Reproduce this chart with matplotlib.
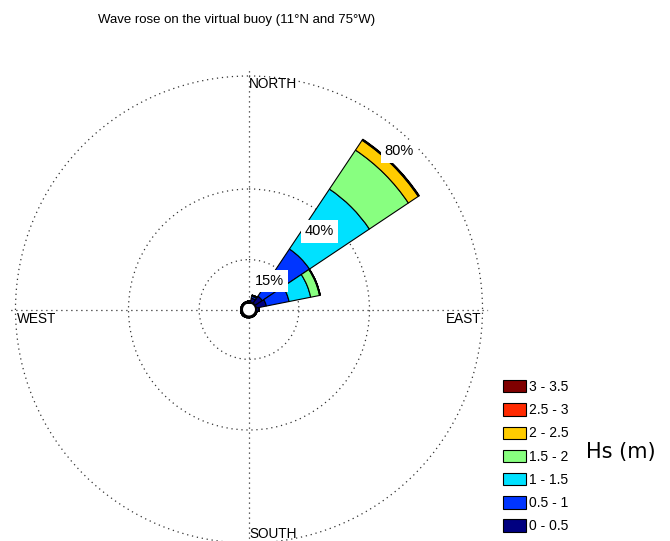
import numpy as np
import matplotlib.pyplot as plt
from matplotlib.patches import Patch

plt.rcParams['font.family'] = ['Liberation Sans', 'DejaVu Sans']

# direction bins (compass degrees, 16 sectors of 22.5)
directions = [0, 22.5, 45, 67.5, 90, 112.5, 135, 157.5,
              180, 202.5, 225, 247.5, 270, 292.5, 315, 337.5]

# frequency (%) of each Hs class per direction
hs_0_05 = [0.3, 1.4, 3.0, 3.6, 0.8, 0.2, 0.2, 0.2, 0.2, 0.3, 0.4, 0.4, 0.3, 0.2, 0.2, 0.2]
hs_05_1 = [0.0, 0.7, 20.1, 8.2, 0.1, 0.0, 0.0, 0.0, 0.0, 0.0, 0.0, 0.0, 0.0, 0.0, 0.0, 0.0]
hs_1_15 = [0.0, 0.4, 25.5, 7.8, 0.0, 0.0, 0.0, 0.0, 0.0, 0.0, 0.0, 0.0, 0.0, 0.0, 0.0, 0.0]
hs_15_2 = [0.0, 0.0, 16.6, 3.2, 0.0, 0.0, 0.0, 0.0, 0.0, 0.0, 0.0, 0.0, 0.0, 0.0, 0.0, 0.0]
hs_2_25 = [0.0, 0.0, 4.2, 0.2, 0.0, 0.0, 0.0, 0.0, 0.0, 0.0, 0.0, 0.0, 0.0, 0.0, 0.0, 0.0]
hs_25_3 = [0.0, 0.0, 0.3, 0.05, 0.0, 0.0, 0.0, 0.0, 0.0, 0.0, 0.0, 0.0, 0.0, 0.0, 0.0, 0.0]
hs_3_35 = [0.0, 0.0, 0.15, 0.0, 0.0, 0.0, 0.0, 0.0, 0.0, 0.0, 0.0, 0.0, 0.0, 0.0, 0.0, 0.0]

classes = ['0 - 0.5', '0.5 - 1', '1 - 1.5', '1.5 - 2', '2 - 2.5', '2.5 - 3', '3 - 3.5']
colors = ['#000080', '#0035FF', '#00E1FF', '#88FF80', '#FFCC00', '#FF2A00', '#800000']
circles = [15, 40, 80]

series = [hs_0_05, hs_05_1, hs_1_15, hs_15_2, hs_2_25, hs_25_3, hs_3_35]

fig = plt.figure(figsize=(6.7, 5.41), dpi=100)

# polar axes: center (249, 309.5) px, 80% circle at 233.5 px
k = 233.5 / 82.65
r0 = 7.5 / k
rmax = 82
R = (rmax + r0) * k
ax = fig.add_axes([(249 - R) / 670, (541 - 309.5 - R) / 541, 2 * R / 670, 2 * R / 541],
                  projection='polar')
ax.set_theta_zero_location('N')
ax.set_theta_direction(-1)
ax.set_rorigin(-r0)
ax.set_rlim(0, rmax)

theta = np.deg2rad(directions)
bottom = np.zeros(len(directions))
for vals, c in zip(series, colors):
    vals = np.array(vals)
    ax.bar(theta, vals, width=np.deg2rad(22.5), bottom=bottom, color=c,
           edgecolor='k', linewidth=0.8, zorder=3)
    bottom += vals

ax.set_rgrids(circles, labels=[])
ax.set_thetagrids([0, 90, 180, 270], labels=[])
ax.grid(True, color='#333333', linestyle=(0, (1, 3)), linewidth=0.9)
ax.set_axisbelow(True)
ax.spines['polar'].set_visible(False)
if 'inner' in ax.spines:
    ax.spines['inner'].set_linewidth(2.2)
ax.patch.set_alpha(0)

for c in circles:
    ax.text(np.deg2rad(45), c, f'{c}%', ha='right', va='top', fontsize=10.5,
            zorder=5, bbox=dict(facecolor='white', edgecolor='none', pad=3))

ax.annotate('NORTH', xy=(0, 80), xytext=(0, -1), textcoords='offset points',
            ha='left', va='top', fontsize=9.8, annotation_clip=False)
ax.annotate('EAST', xy=(np.pi / 2, 80), xytext=(-1, -2), textcoords='offset points',
            ha='right', va='top', fontsize=9.8, annotation_clip=False)
ax.annotate('WEST', xy=(3 * np.pi / 2, 80), xytext=(1, -2), textcoords='offset points',
            ha='left', va='top', fontsize=9.8, annotation_clip=False)
ax.text(np.pi, 78.3, 'SOUTH', ha='left', va='baseline', fontsize=9.8)

fig.text(237 / 670, 1 - 20 / 541, 'Wave rose on the virtual buoy (11°N and 75°W)',
         ha='center', va='center', fontsize=9.5)

handles = [Patch(facecolor=c, edgecolor='k', linewidth=0.8) for c in colors][::-1]
fig.legend(handles, classes[::-1], loc='upper left',
           bbox_to_anchor=(503 / 670, 1 - 380 / 541), frameon=False, fontsize=10,
           handlelength=1.65, handleheight=1.0, handletextpad=0.2,
           labelspacing=0.665, borderpad=0, borderaxespad=0)
fig.text(586 / 670, 1 - 452 / 541, 'Hs (m)', ha='left', va='center', fontsize=15,
         family='DejaVu Sans')

fig.savefig('out.png', dpi=100)
